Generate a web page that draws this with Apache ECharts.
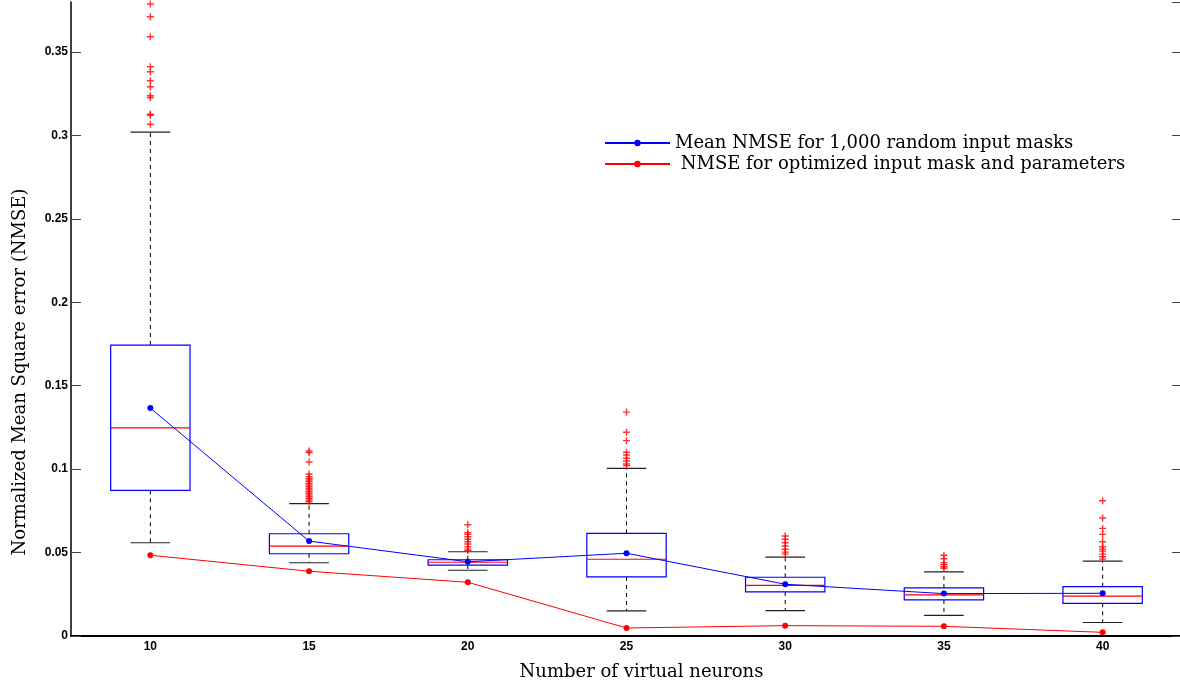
<!DOCTYPE html>
<html>
<head>
<meta charset="utf-8">
<script src="https://cdn.jsdelivr.net/npm/echarts@6/dist/echarts.min.js"></script>
<style>html,body{margin:0;padding:0;background:#fff}#c{width:1180px;height:683px}</style>
</head>
<body>
<div id="c"></div>
<script>
const categories = ['10', '15', '20', '25', '30', '35', '40'];
const whiskerLow  = [0.0559, 0.0439, 0.0394, 0.0150, 0.0152, 0.0124, 0.0081];
const q1          = [0.0873, 0.0493, 0.0425, 0.0354, 0.0264, 0.0216, 0.0196];
const medians     = [0.1248, 0.0539, 0.0442, 0.0460, 0.0304, 0.0246, 0.0239];
const q3          = [0.1744, 0.0613, 0.0457, 0.0615, 0.0352, 0.0288, 0.0296];
const whiskerHigh = [0.3020, 0.0793, 0.0505, 0.1005, 0.0473, 0.0384, 0.0449];
const meanNMSE      = [0.1366, 0.0569, 0.0445, 0.0496, 0.0310, 0.0254, 0.0256];
const optimizedNMSE = [0.0484, 0.0388, 0.0322, 0.0048, 0.0062, 0.0058, 0.0022];
const outliers10 = [0.3788, 0.3712, 0.3592, 0.3412, 0.3382, 0.3328, 0.3292, 0.3238, 0.3228, 0.3127, 0.3121, 0.3067];
const outliers15 = [0.1109, 0.1099, 0.1043, 0.0971, 0.0955, 0.0945, 0.0935, 0.0925, 0.0915, 0.0905, 0.0895, 0.0885, 0.0875, 0.0865, 0.0855, 0.0845, 0.0835, 0.0825, 0.0815, 0.0805];
const outliers20 = [0.0667, 0.0619, 0.0609, 0.0595, 0.0580, 0.0565, 0.0551, 0.0535, 0.0521, 0.0512];
const outliers25 = [0.1342, 0.1221, 0.1171, 0.1101, 0.1085, 0.1065, 0.1049, 0.1031, 0.1021];
const outliers30 = [0.0599, 0.0580, 0.0559, 0.0539, 0.0520, 0.0503, 0.0491];
const outliers35 = [0.0484, 0.0463, 0.0439, 0.0427, 0.0415, 0.0406];
const outliers40 = [0.0811, 0.0707, 0.0645, 0.0609, 0.0565, 0.0535, 0.0521, 0.0509, 0.0491, 0.0475, 0.0461];
const yTicks = [0, 0.05, 0.1, 0.15, 0.2, 0.25, 0.3, 0.35];

const outlierLists = [outliers10, outliers15, outliers20, outliers25, outliers30, outliers35, outliers40];
const outlierData = [];
outlierLists.forEach((list, i) => list.forEach(v => outlierData.push([i, v])));
const boxData = categories.map((c, i) => [i, whiskerLow[i], q1[i], medians[i], q3[i], whiskerHigh[i]]);

const serif = "'DejaVu Serif', serif";
const labelFont = {fontFamily: "'Liberation Sans', Arial, sans-serif", fontWeight: 'bold', fontSize: 12, color: '#000'};

const chart = echarts.init(document.getElementById('c'), null, {renderer: 'canvas'});
const option = {
  animation: false,
  backgroundColor: '#fff',
  grid: {left: 71, top: 2, width: 1111, height: 634, containLabel: false, outerBoundsMode: 'none'},
  legend: {
    left: 599, top: 129, orient: 'vertical', itemWidth: 65, itemHeight: 8, itemGap: 3,
    textStyle: {fontFamily: serif, fontSize: 18, color: '#000'},
    data: ['Mean NMSE for 1,000 random input masks', ' NMSE for optimized input mask and parameters']
  },
  xAxis: [{
    type: 'category', data: categories, position: 'bottom',
    axisLine: {lineStyle: {color: '#000', width: 1.5}},
    axisTick: {inside: true, alignWithLabel: true, length: 10, lineStyle: {color: '#444'}},
    axisLabel: Object.assign({margin: 5}, labelFont),
    name: 'Number of virtual neurons', nameLocation: 'middle', nameGap: 27,
    nameTextStyle: {fontFamily: serif, fontSize: 18, color: '#000', padding: [0, 0, 0, 30]}
  }, {
    type: 'category', data: categories, position: 'top',
    axisLine: {lineStyle: {color: '#000', width: 2}},
    axisTick: {inside: true, alignWithLabel: true, length: 10, lineStyle: {color: '#444'}},
    axisLabel: {show: false}
  }],
  yAxis: [{
    type: 'value', min: 0, max: 0.38, interval: 0.05,
    axisLine: {show: true, lineStyle: {color: '#000', width: 1.5}},
    axisTick: {show: true, inside: true, length: 10, lineStyle: {color: '#444'}},
    splitLine: {show: false},
    axisLabel: Object.assign({margin: 3, showMaxLabel: false, formatter: v => yTicks.indexOf(Math.round(v * 100) / 100) >= 0 ? String(Math.round(v * 100) / 100) : ''}, labelFont),
    name: 'Normalized Mean Square error (NMSE)', nameLocation: 'middle', nameGap: 42,
    nameTextStyle: {fontFamily: serif, fontSize: 18, color: '#000', padding: [0, 106, 0, 0]}
  }, {
    type: 'value', min: 0, max: 0.38, interval: 0.05, position: 'right',
    axisLine: {show: true, lineStyle: {color: '#000', width: 1.5}},
    axisTick: {show: true, inside: true, length: 10, lineStyle: {color: '#444'}},
    splitLine: {show: false}, axisLabel: {show: false}
  }],
  series: [{
    type: 'custom', name: 'box', xAxisIndex: 0, yAxisIndex: 0, z: 2,
    data: boxData,
    encode: {x: 0, y: [1, 2, 3, 4, 5]},
    renderItem: function (params, api) {
      const i = api.value(0);
      const band = api.size([1, 0])[0];
      const boxHalf = band * 0.25, capHalf = band * 0.125;
      const pLow = api.coord([i, api.value(1)]);
      const pQ1 = api.coord([i, api.value(2)]);
      const pMed = api.coord([i, api.value(3)]);
      const pQ3 = api.coord([i, api.value(4)]);
      const pHigh = api.coord([i, api.value(5)]);
      const x = pMed[0];
      const dash = {stroke: '#000', lineWidth: 1, lineDash: [4, 4]};
      return {type: 'group', children: [
        {type: 'line', shape: {x1: x, y1: pQ3[1], x2: x, y2: pHigh[1]}, style: dash},
        {type: 'line', shape: {x1: x, y1: pQ1[1], x2: x, y2: pLow[1]}, style: dash},
        {type: 'line', shape: {x1: x - capHalf, y1: pHigh[1], x2: x + capHalf, y2: pHigh[1]}, style: {stroke: '#222', lineWidth: 1.2}},
        {type: 'line', shape: {x1: x - capHalf, y1: pLow[1], x2: x + capHalf, y2: pLow[1]}, style: {stroke: '#222', lineWidth: 1.2}},
        {type: 'rect', shape: {x: x - boxHalf, y: pQ3[1], width: boxHalf * 2, height: pQ1[1] - pQ3[1]}, style: {fill: 'none', stroke: '#0000ff', lineWidth: 1.2}},
        {type: 'line', shape: {x1: x - boxHalf, y1: pMed[1], x2: x + boxHalf, y2: pMed[1]}, style: {stroke: '#ff0000', lineWidth: 1.2}}
      ]};
    }
  }, {
    type: 'scatter', name: 'outliers', z: 3,
    symbol: 'path://M-0.6,-3H0.6V-0.6H3V0.6H0.6V3H-0.6V0.6H-3V-0.6H-0.6Z',
    symbolSize: 7, itemStyle: {color: '#ff0000'},
    data: outlierData
  }, {
    type: 'line', name: 'Mean NMSE for 1,000 random input masks', z: 5,
    data: meanNMSE, symbol: 'circle', symbolSize: 6, showSymbol: true,
    lineStyle: {color: '#0000ff', width: 1}, itemStyle: {color: '#0000ff'}
  }, {
    type: 'line', name: ' NMSE for optimized input mask and parameters', z: 5,
    data: optimizedNMSE, symbol: 'circle', symbolSize: 6, showSymbol: true,
    lineStyle: {color: '#ff0000', width: 1}, itemStyle: {color: '#ff0000'}
  }]
};
chart.setOption(option);
</script>
</body>
</html>
